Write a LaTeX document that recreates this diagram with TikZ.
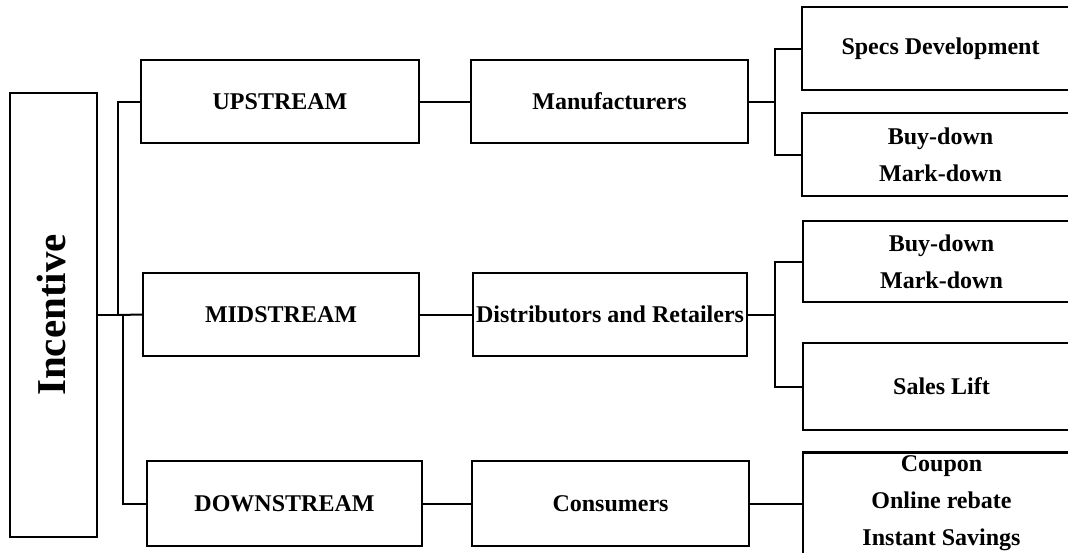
\documentclass[tikz,border=0pt]{standalone}
\usepackage{fontspec}
\setmainfont{Liberation Serif}
\begin{document}
\begin{tikzpicture}[x=0.5pt,y=-0.5pt,
  box/.style={draw=black, line width=1.1pt, inner sep=0pt, align=center,
    font=\fontsize{12}{18.5}\selectfont\bfseries},
  conn/.style={draw=black, line width=1pt}]
\clip (0,0) rectangle (1068,552);
\fill[white] (0,0) rectangle (1068,552);
% left
\node[box, minimum width=43.5pt, minimum height=222pt] (inc) at (53.5,315) {};
\node[rotate=90, font=\fontsize{20.5}{24}\selectfont\bfseries] (inctext) at (51,315) {Incentive};
% middle column 1
\node[box, minimum width=139pt, minimum height=41.5pt] (up) at (280,101.5) {UPSTREAM};
\node[box, minimum width=138pt, minimum height=41.5pt] (mid) at (281,314.5) {MIDSTREAM};
\node[box, minimum width=137.5pt, minimum height=42.5pt] (down) at (284.5,503.5) {DOWNSTREAM};
% middle column 2
\node[box, minimum width=138.5pt, minimum height=41.5pt] (man) at (609.5,101.5) {Manufacturers};
\node[box, minimum width=137pt, minimum height=41.5pt] (dist) at (610,314.5) {Distributors and Retailers};
\node[box, minimum width=138.5pt, minimum height=42.5pt] (cons) at (610.5,503.5) {Consumers};
% right column
\node[box, minimum width=138.5pt, minimum height=41.5pt] (spec) at (940.5,48.5) {Specs Development};
\node[box, minimum width=138.5pt, minimum height=41.5pt] (bd1) at (940.5,154.5) {Buy-down\\Mark-down};
\node[box, minimum width=138.5pt, minimum height=40.5pt] (bd2) at (941.5,261.5) {Buy-down\\Mark-down};
\node[box, minimum width=138.5pt, minimum height=43.5pt] (sales) at (941.5,386.5) {Sales Lift};
\node[box, minimum width=138.5pt, minimum height=51pt] (coup) at (941.5,503.5) {Coupon\\Online rebate\\Instant Savings};
% junctions
\coordinate (j1) at (118,315);
\coordinate (j2) at (123,315);
\coordinate (k1) at (775,101.5);
\coordinate (k2) at (775,314.5);
% connectors
\draw[conn] (inc.east) -- (j1);
\draw[conn] (j1) |- (up.west);
\draw[conn] (j1) -- (mid.west);
\draw[conn] (j2) |- (down.west);
\draw[conn] (up) -- (man);
\draw[conn] (mid) -- (dist);
\draw[conn] (down) -- (cons);
\draw[conn] (man.east) -- (k1);
\draw[conn] (spec.west) -| (k1);
\draw[conn] (bd1.west) -| (k1);
\draw[conn] (dist.east) -- (k2);
\draw[conn] (bd2.west) -| (k2);
\draw[conn] (sales.west) -| (k2);
\draw[conn] (cons) -- (coup);
\end{tikzpicture}
\end{document}
